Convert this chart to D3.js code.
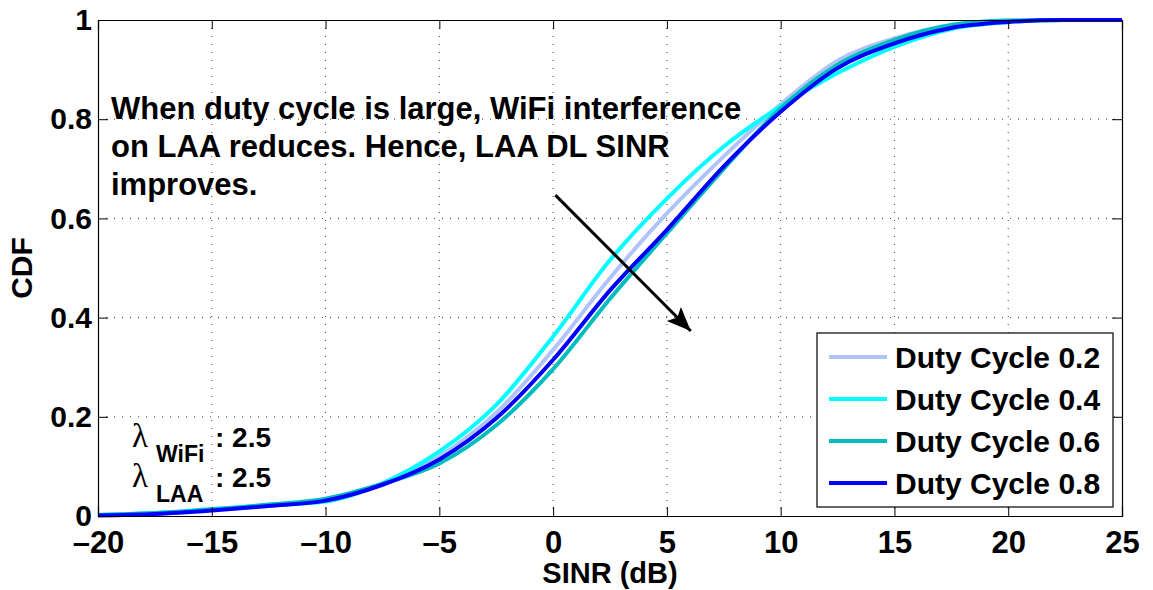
<!DOCTYPE html>
<head>
  <meta charset="utf-8">
  <script src="https://d3js.org/d3.v7.min.js"></script>
  <style>
    body { margin: 0; background: #fff; }
    text { font-family: "Liberation Sans", Arial, sans-serif; font-weight: bold; fill: #000; }
  </style>
</head>
<body>
<script>
  // sinr points (dB) where the cdf curves were read
  var sinr = [-20, -17.5, -15, -12.5, -10, -7.5, -5, -2.5, 0, 2.5, 5, 7.5, 10, 12.5, 15, 17.5, 20, 22.5, 25];

  // cdf values for each duty cycle
  var dc02 = [0.002, 0.006, 0.012, 0.021, 0.032, 0.064, 0.120, 0.208, 0.335, 0.480, 0.610, 0.725, 0.830, 0.918, 0.963, 0.990, 0.999, 1, 1];
  var dc04 = [0.002, 0.006, 0.014, 0.022, 0.029, 0.066, 0.130, 0.224, 0.362, 0.516, 0.640, 0.745, 0.826, 0.893, 0.946, 0.982, 0.996, 1, 1];
  var dc06 = [0.002, 0.006, 0.013, 0.023, 0.035, 0.065, 0.106, 0.183, 0.296, 0.438, 0.570, 0.700, 0.822, 0.910, 0.960, 0.990, 0.999, 1, 1];
  var dc08 = [0.001, 0.004, 0.011, 0.020, 0.031, 0.063, 0.114, 0.197, 0.315, 0.455, 0.577, 0.705, 0.815, 0.903, 0.953, 0.984, 0.996, 1, 1];

  var seriesNames = ['Duty Cycle 0.2', 'Duty Cycle 0.4', 'Duty Cycle 0.6', 'Duty Cycle 0.8'];
  var seriesValues = [dc02, dc04, dc06, dc08];
  var seriesColors = ['#b0c4fa', '#00ffff', '#00bdbd', '#0000ff'];

  var xTicks = [-20, -15, -10, -5, 0, 5, 10, 15, 20, 25];
  var yTicks = [0, 0.2, 0.4, 0.6, 0.8, 1];

  // arrow endpoints in data units (start, end)
  var arrowFrom = [0.1, 0.647];
  var arrowTo = [6.05, 0.373];

  var noteLines = ['When duty cycle is large, WiFi interference',
                   'on LAA reduces. Hence, LAA DL SINR',
                   'improves.'];

  var outerWidth = 1153,
    outerHeight = 590;

  var margin = { top: 20, left: 98, right: 31, bottom: 74 };
  var width = outerWidth - margin.left - margin.right,
    height = outerHeight - margin.top - margin.bottom;

  var xScale = d3.scaleLinear().domain([-20, 25]).range([0, width]);
  var yScale = d3.scaleLinear().domain([0, 1]).range([height, 0]);

  var svg = d3.select('body').append('svg')
    .attr('width', outerWidth)
    .attr('height', outerHeight)
    .append('g')
    .attr('transform', 'translate(' + margin.left + ' ' + margin.top + ')');

  // dotted grid
  svg.append('g').selectAll('line').data(xTicks.slice(1, -1)).enter().append('line')
    .attr('x1', function(d) { return xScale(d); })
    .attr('x2', function(d) { return xScale(d); })
    .attr('y1', 0).attr('y2', height)
    .attr('stroke', '#444').attr('stroke-width', 1).attr('stroke-dasharray', '1,7');
  svg.append('g').selectAll('line').data(yTicks.slice(1, -1)).enter().append('line')
    .attr('y1', function(d) { return yScale(d); })
    .attr('y2', function(d) { return yScale(d); })
    .attr('x1', 0).attr('x2', width)
    .attr('stroke', '#444').attr('stroke-width', 1).attr('stroke-dasharray', '1,7');

  // curves
  var line = d3.line()
    .x(function(d, i) { return xScale(sinr[i]); })
    .y(function(d) { return yScale(d); })
    .curve(d3.curveMonotoneX);

  seriesValues.forEach(function(vals, k) {
    svg.append('path')
      .datum(vals)
      .attr('d', line)
      .attr('fill', 'none')
      .attr('stroke', seriesColors[k])
      .attr('stroke-width', 4);
  });

  // axes: ticks point inward on all four sides
  var xAxis = d3.axisBottom(xScale).tickValues(xTicks).tickSize(-9).tickPadding(15)
    .tickFormat(function(d) { return d < 0 ? '\u2013' + Math.abs(d) : d; });
  var xTop = d3.axisTop(xScale).tickValues(xTicks).tickSize(-9).tickFormat('');
  var yAxis = d3.axisLeft(yScale).tickValues(yTicks).tickSize(-10).tickPadding(6)
    .tickFormat(function(d) { return d; });
  var yRight = d3.axisRight(yScale).tickValues(yTicks).tickSize(-10).tickFormat('');

  var gx = svg.append('g').attr('transform', 'translate(0 ' + height + ')').call(xAxis);
  svg.append('g').call(xTop);
  var gy = svg.append('g').call(yAxis);
  svg.append('g').attr('transform', 'translate(' + width + ' 0)').call(yRight);

  svg.selectAll('.domain').attr('stroke', '#000').attr('stroke-width', 1.2);
  svg.selectAll('.tick line').attr('stroke', '#000');
  gx.selectAll('text').style('font-size', '31px').style('font-family', 'Liberation Sans').attr('fill', '#000');
  gy.selectAll('text').style('font-size', '30px').style('font-family', 'Liberation Sans').attr('fill', '#000');

  // axis titles
  svg.append('text')
    .attr('x', width / 2).attr('y', height + 67)
    .attr('text-anchor', 'middle')
    .style('font-size', '29px')
    .text('SINR (dB)');
  svg.append('text')
    .attr('transform', 'rotate(-90)')
    .attr('x', -height / 2).attr('y', -66)
    .attr('text-anchor', 'middle')
    .style('font-size', '30px')
    .text('CDF');

  // annotation text
  noteLines.forEach(function(t, i) {
    svg.append('text')
      .attr('x', 13).attr('y', 99 + i * 38)
      .style('font-size', '31px')
      .text(t);
  });

  // arrow
  svg.append('defs').append('marker')
    .attr('id', 'head')
    .attr('markerUnits', 'userSpaceOnUse')
    .attr('markerWidth', 26).attr('markerHeight', 22)
    .attr('refX', 24).attr('refY', 10)
    .attr('orient', 'auto')
    .append('path')
    .attr('d', 'M0,0 L24,10 L0,20 L5,10 Z')
    .attr('fill', '#000');
  svg.append('line')
    .attr('x1', xScale(arrowFrom[0])).attr('y1', yScale(arrowFrom[1]))
    .attr('x2', xScale(arrowTo[0])).attr('y2', yScale(arrowTo[1]))
    .attr('stroke', '#000').attr('stroke-width', 3)
    .attr('marker-end', 'url(#head)');

  // lambda labels
  var lambdaRows = [['WiFi', 427], ['LAA', 467]];
  lambdaRows.forEach(function(r) {
    var g = svg.append('g');
    g.append('text').attr('x', 34).attr('y', r[1])
      .style('font-family', 'Liberation Serif').style('font-weight', 'normal').style('font-size', '33px')
      .text('\u03bb');
    g.append('text').attr('x', 58).attr('y', r[1] + 15)
      .style('font-size', '23px').text(r[0]);
    g.append('text').attr('x', 117).attr('y', r[1])
      .style('font-size', '28px').text(': 2.5');
  });

  // legend
  var legend = svg.append('g').attr('transform', 'translate(' + (817 - margin.left) + ' ' + (333 - margin.top) + ')');
  legend.append('rect')
    .attr('width', 296).attr('height', 174)
    .attr('fill', '#fff').attr('stroke', '#000').attr('stroke-width', 1.2);
  seriesNames.forEach(function(name, k) {
    var yy = 24 + k * 42;
    legend.append('line')
      .attr('x1', 12).attr('x2', 70).attr('y1', yy).attr('y2', yy)
      .attr('stroke', seriesColors[k]).attr('stroke-width', 4);
    legend.append('text')
      .attr('x', 78).attr('y', yy + 11)
      .style('font-size', '30px')
      .text(name);
  });
</script>
</body>
